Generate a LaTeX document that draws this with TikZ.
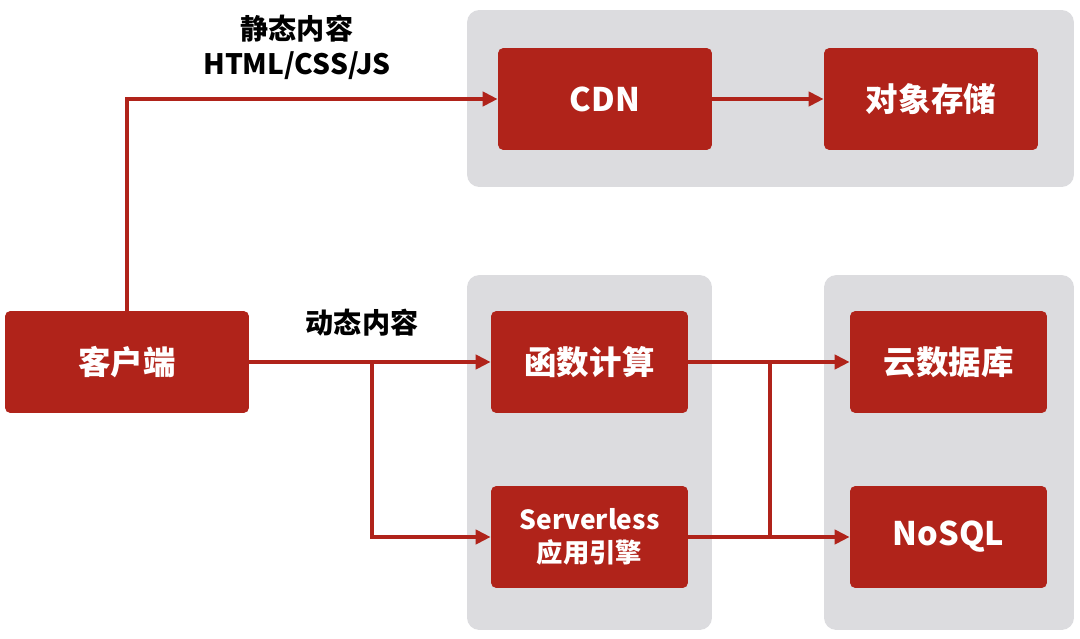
\documentclass[tikz,border=0pt]{standalone}
\usepackage{fontspec}
\setmainfont{Noto Sans CJK SC}
\usetikzlibrary{arrows.meta}
\definecolor{boxred}{HTML}{B0231A}
\definecolor{panelgray}{HTML}{DCDCDF}
\begin{document}
\begin{tikzpicture}[x=0.02cm,y=-0.02cm,
  panel/.style={fill=panelgray,draw=none,rounded corners=7pt,inner sep=0pt},
  redbox/.style={fill=boxred,draw=none,rounded corners=3pt,text=white,inner sep=0pt,
     minimum height=2.04cm,align=center,font=\bfseries\fontsize{18.5}{22}\selectfont},
  lbl/.style={align=center,font=\bfseries\fontsize{16}{20}\selectfont,inner sep=0pt},
  conn/.style={draw=boxred,line width=2.1pt},
  arr/.style={conn,-{Triangle[length=8.5pt,width=8pt]}}]
\useasboundingbox (0,0) rectangle (1080,639);
% panels
\node[panel,minimum width=12.14cm,minimum height=3.54cm] (ptop) at (770.5,98.5) {};
\node[panel,minimum width=4.9cm,minimum height=7.1cm] (pmid) at (589.5,452.5) {};
\node[panel,minimum width=5cm,minimum height=7.1cm] (pright) at (949,452.5) {};
% boxes
\node[redbox,minimum width=4.28cm] (cdn) at (605,99) {CDN};
\node[redbox,minimum width=4.28cm] (obj) at (931,99) {对象存储};
\node[redbox,minimum width=4.88cm] (client) at (127,362) {客户端};
\node[redbox,minimum width=3.94cm] (fc) at (589.5,362) {函数计算};
\node[redbox,minimum width=3.94cm,font=\bfseries\fontsize{15}{19}\selectfont] (sae) at (589.5,537) {Serverless\\应用引擎};
\node[redbox,minimum width=3.94cm] (db) at (948.5,362) {云数据库};
\node[redbox,minimum width=3.94cm] (nosql) at (948.5,537) {NoSQL};
% labels
\node[lbl] (static) at (297,47) {静态内容\\HTML/CSS/JS};
\node[lbl] (dynamic) at (362,323) {动态内容};
% connectors
\draw[arr] (client.north) |- (cdn.west);
\draw[arr] (cdn) -- (obj);
\draw[arr] (client) -- (fc);
\coordinate (b1) at (372,362);
\draw[arr] (b1) |- (sae.west);
\draw[arr] (fc) -- (db);
\draw[arr] (sae) -- (nosql);
\coordinate (b2) at (770,362);
\draw[conn] (b2) -- (b2 |- sae.east);
\end{tikzpicture}
\end{document}
